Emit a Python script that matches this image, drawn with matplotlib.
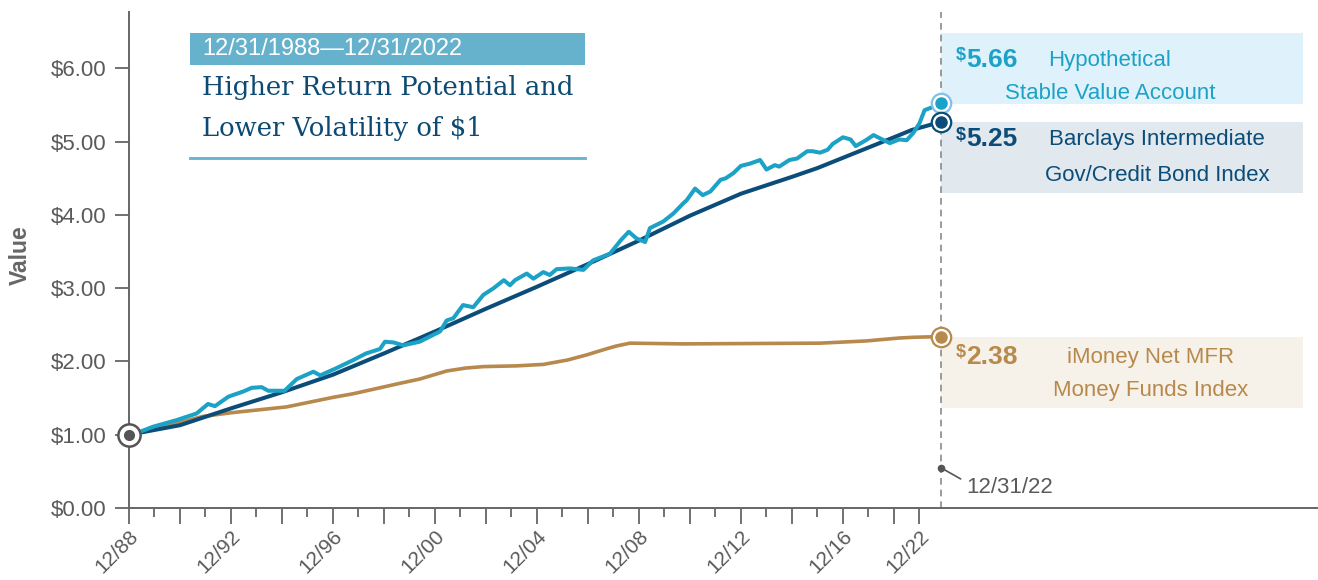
import matplotlib
matplotlib.use('Agg')
import matplotlib.pyplot as plt
from matplotlib.patches import Rectangle
from matplotlib.lines import Line2D

plt.rcParams['font.family'] = ['Liberation Sans', 'DejaVu Sans']

# x positions in chart years after 12/88 (as drawn on the axis)
sv_t = [0, 0.43, 0.95, 1.87, 2.65, 3.1, 3.37, 3.9, 4.48, 4.81, 5.2, 5.46, 6.1, 6.58, 7.23, 7.5,
        8.14, 8.8, 9.3, 9.84, 10.04, 10.37, 10.76, 11.4, 11.8, 12.2, 12.46, 12.72, 13.1, 13.5,
        13.9, 14.3, 14.7, 14.94, 15.14, 15.6, 15.86, 16.25, 16.5, 16.77, 17.3, 17.82, 18.2,
        18.86, 19.3, 19.6, 19.9, 20.24, 20.43, 20.95, 21.35, 21.74, 21.87, 22.2, 22.5, 22.8,
        23.2, 23.4, 23.7, 24.0, 24.35, 24.75, 25.0, 25.33, 25.5, 25.9, 26.2, 26.6, 26.8, 27.1,
        27.4, 27.6, 28.0, 28.3, 28.5, 28.9, 29.2, 29.6, 29.84, 30.2, 30.5, 30.76, 31.0, 31.2,
        31.5, 31.84]
sv_v = [1.00, 1.04, 1.11, 1.20, 1.29, 1.42, 1.39, 1.52, 1.59, 1.64, 1.65, 1.60, 1.60, 1.76,
        1.86, 1.81, 1.91, 2.02, 2.11, 2.17, 2.27, 2.26, 2.22, 2.27, 2.34, 2.41, 2.56, 2.59,
        2.77, 2.74, 2.91, 3.00, 3.11, 3.04, 3.11, 3.20, 3.13, 3.22, 3.18, 3.26, 3.27, 3.25,
        3.38, 3.47, 3.66, 3.77, 3.68, 3.63, 3.82, 3.91, 4.02, 4.16, 4.20, 4.36, 4.27, 4.32,
        4.48, 4.50, 4.57, 4.67, 4.70, 4.75, 4.62, 4.68, 4.66, 4.75, 4.77, 4.87, 4.87, 4.85,
        4.89, 4.97, 5.06, 5.03, 4.94, 5.02, 5.09, 5.02, 4.98, 5.03, 5.02, 5.12, 5.25, 5.43,
        5.47, 5.53]

bd_t = [0, 2, 4, 6, 8, 10, 12, 14, 16, 18, 20, 22, 24, 26, 27, 28, 29, 30, 30.7, 31.84]
bd_v = [1.00, 1.13, 1.36, 1.58, 1.82, 2.11, 2.41, 2.72, 3.02, 3.33, 3.65, 3.99, 4.29, 4.52,
        4.64, 4.78, 4.92, 5.06, 5.16, 5.27]

mm_t = [0, 0.43, 2.9, 4, 6.18, 8, 8.8, 10.6, 11.4, 12.46, 13.2, 13.9, 15.2, 16.25, 17.2,
        17.95, 18.7, 19.1, 19.65, 21.7, 27.1, 28.9, 30.2, 30.76, 31.84]
mm_v = [1.00, 1.03, 1.25, 1.30, 1.38, 1.51, 1.56, 1.70, 1.76, 1.87, 1.91, 1.93, 1.94, 1.96,
        2.02, 2.09, 2.17, 2.21, 2.25, 2.24, 2.25, 2.28, 2.32, 2.33, 2.34]

label_pos = [0, 4, 8, 12, 16, 20, 24, 28, 31]
label_txt = ['12/88', '12/92', '12/96', '12/00', '12/04', '12/08', '12/12', '12/16', '12/22']

end_vals = ['5.66', '5.25', '2.38']
names = [('Hypothetical', 'Stable Value Account'),
         ('Barclays Intermediate', 'Gov/Credit Bond Index'),
         ('iMoney Net MFR', 'Money Funds Index')]

TEAL = '#1ba2c6'
NAVY = '#0b4d78'
TAN = '#b8894c'
GREY = '#5a5a5a'

fig = plt.figure(figsize=(13.18, 5.8), dpi=100)
ax = fig.add_axes([129/1318, 72/580, 1189/1318, 496/580])

ax.plot(mm_t, mm_v, color=TAN, lw=2.6, zorder=3)
ax.plot(bd_t, bd_v, color=NAVY, lw=2.9, zorder=4)
ax.plot(sv_t, sv_v, color=TEAL, lw=2.9, zorder=5)

ax.set_xlim(0, 46.63)
ax.set_ylim(0, 6.77)
end_t = sv_t[-1]

# ticks
major = list(range(0, 31, 2)) + [31]
ax.set_xticks(major)
ax.set_xticklabels([label_txt[label_pos.index(p)] if p in label_pos else '' for p in major],
                   rotation=45, ha='right', va='top', rotation_mode='anchor')
ax.set_xticks(list(range(1, 30, 2)), minor=True)
ax.tick_params(axis='x', which='major', length=11.5, width=1.3, color='#666',
               labelsize=15, labelcolor=GREY, pad=2)
ax.tick_params(axis='x', which='minor', length=6.5, width=1.3, color='#666')
ax.set_yticks(range(7))
ax.set_yticklabels(['$%.2f' % v for v in range(7)])
ax.tick_params(axis='y', length=10, width=1.3, color='#666', labelsize=16, labelcolor=GREY, pad=6)
for s in ['top', 'right']:
    ax.spines[s].set_visible(False)
for s in ['left', 'bottom']:
    ax.spines[s].set_color('#666')
    ax.spines[s].set_linewidth(1.4)

fig.text(20/1318, 1 - 255/580, 'Value', rotation=90, ha='center', va='center',
         fontsize=16.5, fontweight='bold', color='#666')

# end date line
ax.axvline(end_t, color='#8a8a8a', lw=1.2, ls=(0, (4, 3)), zorder=2)
ax.plot(end_t, 0.55, 'o', ms=4.5, color='#555', zorder=6)
ax.annotate('12/31/22', xy=(end_t, 0.55), xytext=(18, -14), textcoords='offset points',
            ha='left', va='center', fontsize=16, color=GREY,
            arrowprops=dict(arrowstyle='-', color='#555', lw=1.2, shrinkA=2, shrinkB=0,
                            relpos=(0, 0.75)))

# markers
ax.plot(0, 1.0, 'o', ms=16, mfc='white', mec='#555', mew=1.8, clip_on=False, zorder=7)
ax.plot(0, 1.0, 'o', ms=7, color='#555', clip_on=False, zorder=8)
for vals, c, ring in [(sv_v, TEAL, '#86bfe6'), (bd_v, NAVY, NAVY), (mm_v, TAN, TAN)]:
    ax.plot(end_t, vals[-1], 'o', ms=14, mfc='white', mec=ring, mew=1.6, zorder=7)
    ax.plot(end_t, vals[-1], 'o', ms=8, color=c, zorder=8)

# value boxes on the right
box_w = 14.2
box_h = 0.97
boxes = [(sv_v[-1] - 0.02, '#dff1fa', TEAL, 6.11, 5.66, 38.47),
         (bd_v[-1] - box_h, '#e1e8ee', NAVY, 5.03, 4.54, 40.31),
         (mm_v[-1] - 0.01 - box_h, '#f6f2ea', TAN, 2.06, 1.60, 40.08)]
for (bottom, fc, tc, y1, y2, cx), val, (n1, n2) in zip(boxes, end_vals, names):
    ax.add_patch(Rectangle((end_t, bottom), box_w, box_h, facecolor=fc, edgecolor='none',
                           zorder=1, clip_on=False))
    ax.text(end_t + 0.6, y1 + 0.06, '$', fontsize=13, fontweight='bold', color=tc,
            ha='left', va='center')
    ax.text(end_t + 1.0, y1, val, fontsize=19, fontweight='bold', color=tc,
            ha='left', va='center')
    ax.text(cx, y1, n1, fontsize=16, color=tc, ha='center', va='center')
    ax.text(cx, y2, n2, fontsize=16, color=tc, ha='center', va='center')

# headline block
fig.patches.append(Rectangle((190/1318, 1 - 65/580), 395/1318, 32/580,
                             transform=fig.transFigure, facecolor='#66b2cd', edgecolor='none'))
fig.text(202/1318, 1 - 49/580, '12/31/1988\u201412/31/2022', fontsize=17, color='white',
         ha='left', va='center')
fig.text(202/1318, 1 - 88/580, 'Higher Return Potential and', fontsize=18.6,
         family='DejaVu Serif', color='#0d4a73', ha='left', va='center')
fig.text(202/1318, 1 - 129/580, 'Lower Volatility of $1', fontsize=18.6,
         family='DejaVu Serif', color='#0d4a73', ha='left', va='center')
fig.lines.append(Line2D([190/1318, 585/1318], [1 - 158/580, 1 - 158/580],
                        transform=fig.transFigure, color='#66b2cd', lw=2))

fig.savefig('out.png', dpi=100)
